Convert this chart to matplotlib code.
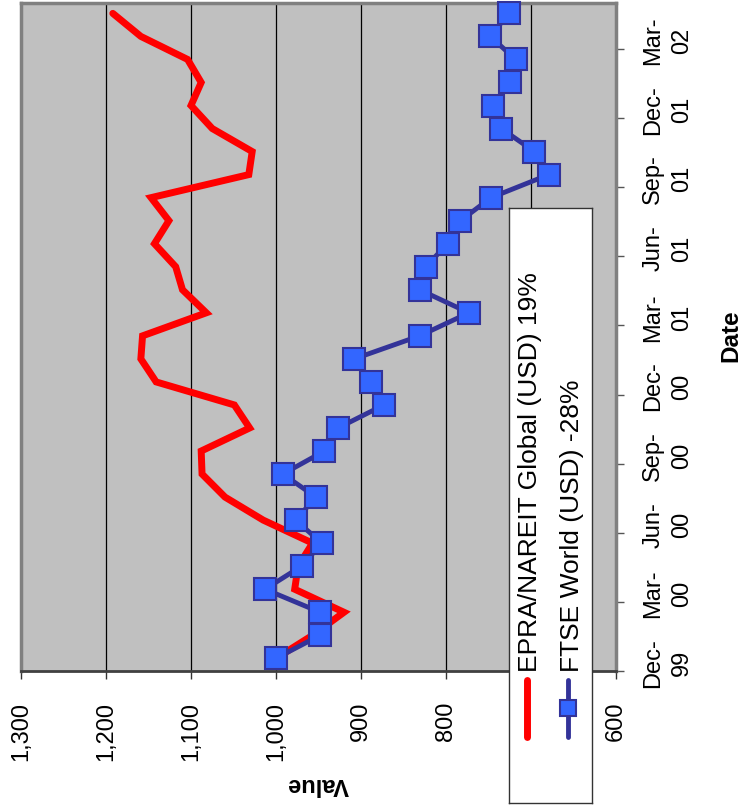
import numpy as np
import matplotlib
matplotlib.use('Agg')
import matplotlib.pyplot as plt
import matplotlib.ticker as mticker
import matplotlib.transforms as mtrans

plt.rcParams['font.family'] = ['Liberation Sans', 'DejaVu Sans']

# monthly index values (base 1000 at Dec-99)
months = ['Dec-99', 'Jan-00', 'Feb-00', 'Mar-00', 'Apr-00', 'May-00', 'Jun-00',
          'Jul-00', 'Aug-00', 'Sep-00', 'Oct-00', 'Nov-00', 'Dec-00', 'Jan-01',
          'Feb-01', 'Mar-01', 'Apr-01', 'May-01', 'Jun-01', 'Jul-01', 'Aug-01',
          'Sep-01', 'Oct-01', 'Nov-01', 'Dec-01', 'Jan-02', 'Feb-02', 'Mar-02',
          'Apr-02']
epra = [1000, 957, 920, 978, 974, 957, 1015, 1060, 1087, 1088, 1031, 1049, 1141,
        1159, 1157, 1082, 1110, 1118, 1143, 1126, 1147, 1032, 1028, 1075, 1100,
        1088, 1104, 1159, 1192]
ftse = [1000, 948, 948, 1013, 970, 946, 977, 953, 992, 943, 927, 873, 888, 908,
        831, 773, 831, 824, 798, 783, 747, 679, 696, 735, 745, 725, 718, 748, 726]
quarter_labels = ['Dec-\n99', 'Mar-\n00', 'Jun-\n00', 'Sep-\n00', 'Dec-\n00',
                  'Mar-\n01', 'Jun-\n01', 'Sep-\n01', 'Dec-\n01', 'Mar-\n02']
value_ticks = [600, 700, 800, 900, 1000, 1100, 1200, 1300]
names = ['EPRA/NAREIT Global (USD) 19%', 'FTSE World (USD) -28%']

W, H = 743, 808
fig = plt.figure(figsize=(W / 100, H / 100), dpi=100)
ax = fig.add_axes([21 / W, (H - 671) / H, (616 - 21) / W, (671 - 3) / H])
ax.set_facecolor('#C0C0C0')

pos = np.arange(len(months)) + 0.55
ax.plot(epra, pos, color='#FF0000', lw=5, solid_joinstyle='miter',
        solid_capstyle='round', zorder=3)
ax.plot(ftse, pos, color='#333399', lw=3.5, marker='s', ms=16.5,
        mfc='#3366FF', mec='#333399', mew=1.5, zorder=4, clip_on=False)

ax.set_xlim(1300, 600)
ax.set_ylim(0, 29.0)
ax.set_xticks(value_ticks)
ax.xaxis.set_major_formatter(mticker.FuncFormatter(lambda v, p: '{:,.0f}'.format(v)))
ax.grid(axis='x', color='black', lw=0.9, zorder=1)
ax.set_axisbelow(True)

ax.set_yticks(np.arange(0, 3 * len(quarter_labels), 3))
ax.set_yticklabels(quarter_labels, rotation=90, va='center', ha='left',
                   ma='center', linespacing=1.4)
ax.yaxis.tick_right()

ax.tick_params(axis='x', direction='out', length=6, width=1, color='#333333',
               pad=16, labelsize=17, labelrotation=90)
ax.tick_params(axis='y', direction='out', length=6, width=1, color='#555555',
               pad=13, labelsize=17)
for lab in ax.get_xticklabels():
    lab.set_va('top')
# shift date labels slightly upwards
off = mtrans.ScaledTranslation(0, 0.08, fig.dpi_scale_trans)
for lab in ax.get_yticklabels():
    lab.set_transform(lab.get_transform() + off)

for s in ['top', 'left', 'right']:
    ax.spines[s].set_color('#808080')
    ax.spines[s].set_linewidth(2.5)
ax.spines['bottom'].set_color('#404040')
ax.spines['bottom'].set_linewidth(2)

fig.text(318 / W, 1 - 785 / H, 'Value', rotation=180, ha='center', va='center',
         fontsize=17, fontweight='bold')
fig.text(731 / W, 1 - 336 / H, 'Date', rotation=90, ha='center', va='center',
         fontsize=17.5, fontweight='bold')

# rotated legend drawn as its own small axes on top
lg = fig.add_axes([509 / W, (H - 803) / H, (592 - 509) / W, (803 - 208) / H], zorder=10)
lg.set_xlim(509, 592)
lg.set_ylim(803, 208)
lg.set_xticks([])
lg.set_yticks([])
for s in lg.spines.values():
    s.set_color('#333333')
    s.set_linewidth(1)
lg.plot([527, 527], [680, 737], color='#FF0000', lw=5, solid_capstyle='round')
lg.plot([568, 568], [680, 737], color='#333399', lw=3.5, solid_capstyle='round')
lg.plot([568], [708], marker='s', ms=12, mfc='#3366FF', mec='#333399', mew=1.5)
lg.text(530, 672, names[0], rotation=90, ha='center', va='bottom', fontsize=19)
lg.text(572, 672, names[1], rotation=90, ha='center', va='bottom', fontsize=19)

fig.savefig('out.png', dpi=100)
